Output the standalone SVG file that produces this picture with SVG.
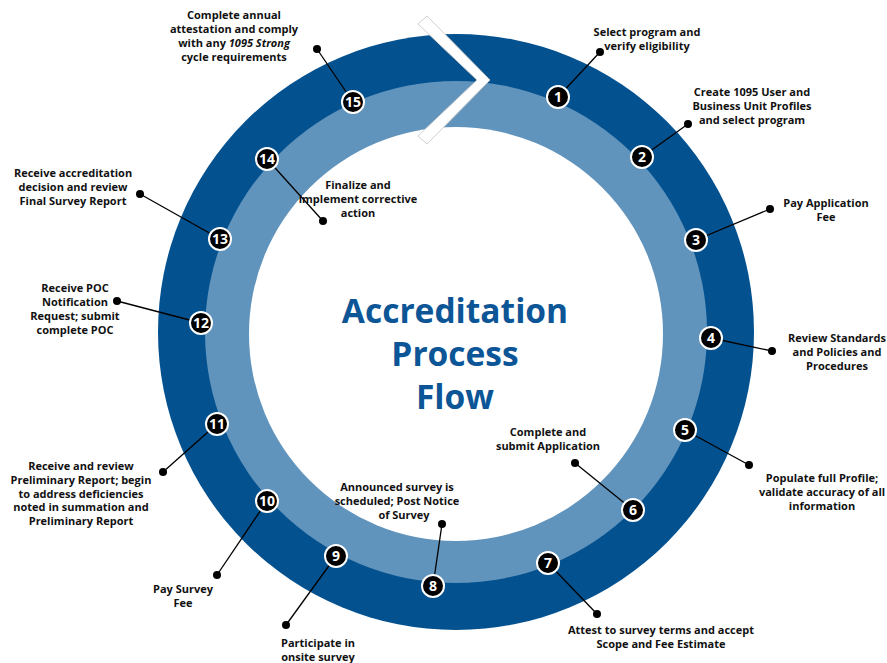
<svg xmlns="http://www.w3.org/2000/svg" width="887" height="663" viewBox="0 0 887 663">
  <style>
    .lbl { font-family: "Open Sans", "Noto Sans", "Liberation Sans", sans-serif; font-weight: 700; font-size: 11px; fill: #111; text-anchor: middle; }
    .num { font-family: "Open Sans", "Noto Sans", "Liberation Sans", sans-serif; font-weight: 700; font-size: 14px; fill: #fff; text-anchor: middle; }
    .title { font-family: "Open Sans", "Noto Sans", "Liberation Sans", sans-serif; font-weight: 700; font-size: 33.5px; fill: #0c5596; text-anchor: middle; }
    .badge { fill: #000; stroke: #fff; stroke-width: 2; }
    .lead { stroke: #000; stroke-width: 1.3; fill: none; }
    .dot { fill: #000; }
  </style>

  <rect width="887" height="663" fill="#fff"/>

  <!-- ring bands -->
  <g id="ring">
    <circle cx="456" cy="332" r="298" fill="#03518f"/>
    <circle cx="456" cy="332" r="251" fill="#6194bc"/>
    <circle cx="456" cy="334" r="207" fill="#fff"/>
    <polygon points="427,16 490,80 427,144 418,136 477,80 418,24" fill="#fff" stroke="#cfcfcf" stroke-width="1"/>
  </g>

  <!-- title -->
  <g id="title">
    <text class="title" x="455" y="323">Accreditation</text>
    <text class="title" x="455" y="366">Process</text>
    <text class="title" x="455" y="409">Flow</text>
  </g>

  <!-- leader lines -->
  <g id="connectors">
    <line class="lead" x1="558" y1="97" x2="600" y2="52"/>
    <line class="lead" x1="642" y1="157" x2="688" y2="124"/>
    <line class="lead" x1="696" y1="240" x2="770" y2="209"/>
    <line class="lead" x1="711" y1="338" x2="772" y2="351"/>
    <line class="lead" x1="685" y1="430" x2="749" y2="465"/>
    <line class="lead" x1="633" y1="510" x2="575" y2="463"/>
    <line class="lead" x1="548" y1="563" x2="597" y2="614"/>
    <line class="lead" x1="433" y1="586" x2="442" y2="524"/>
    <line class="lead" x1="336" y1="556" x2="286" y2="625"/>
    <line class="lead" x1="267" y1="501" x2="217" y2="575"/>
    <line class="lead" x1="217" y1="424" x2="163" y2="472"/>
    <line class="lead" x1="201" y1="323" x2="117" y2="301"/>
    <line class="lead" x1="220" y1="239" x2="140" y2="194"/>
    <line class="lead" x1="267" y1="159" x2="323" y2="221"/>
    <line class="lead" x1="353" y1="102" x2="317" y2="49"/>
    <circle class="dot" cx="600" cy="52" r="4"/>
    <circle class="dot" cx="688" cy="124" r="4"/>
    <circle class="dot" cx="770" cy="209" r="4"/>
    <circle class="dot" cx="772" cy="351" r="4"/>
    <circle class="dot" cx="749" cy="465" r="4"/>
    <circle class="dot" cx="575" cy="463" r="4"/>
    <circle class="dot" cx="597" cy="614" r="4"/>
    <circle class="dot" cx="442" cy="524" r="4"/>
    <circle class="dot" cx="286" cy="625" r="4"/>
    <circle class="dot" cx="217" cy="575" r="4"/>
    <circle class="dot" cx="163" cy="472" r="4"/>
    <circle class="dot" cx="117" cy="301" r="4"/>
    <circle class="dot" cx="140" cy="194" r="4"/>
    <circle class="dot" cx="323" cy="221" r="4"/>
    <circle class="dot" cx="317" cy="49" r="4"/>
  </g>

  <!-- steps -->
  <g id="step1">
    <circle class="badge" cx="558" cy="97" r="11"/>
    <text class="num" x="558" y="102">1</text>
    <text class="lbl" x="647" y="36">Select program and</text>
    <text class="lbl" x="647" y="50">verify eligibility</text>
  </g>
  <g id="step2">
    <circle class="badge" cx="642" cy="157" r="11"/>
    <text class="num" x="642" y="162">2</text>
    <text class="lbl" x="752" y="96">Create 1095 User and</text>
    <text class="lbl" x="752" y="110">Business Unit Profiles</text>
    <text class="lbl" x="752" y="124">and select program</text>
  </g>
  <g id="step3">
    <circle class="badge" cx="696" cy="240" r="11"/>
    <text class="num" x="696" y="245">3</text>
    <text class="lbl" x="826" y="207">Pay Application</text>
    <text class="lbl" x="826" y="221">Fee</text>
  </g>
  <g id="step4">
    <circle class="badge" cx="711" cy="338" r="11"/>
    <text class="num" x="711" y="343">4</text>
    <text class="lbl" x="837" y="342">Review Standards</text>
    <text class="lbl" x="837" y="356">and Policies and</text>
    <text class="lbl" x="837" y="370">Procedures</text>
  </g>
  <g id="step5">
    <circle class="badge" cx="685" cy="430" r="11"/>
    <text class="num" x="685" y="435">5</text>
    <text class="lbl" x="822" y="482">Populate full Profile;</text>
    <text class="lbl" x="822" y="496">validate accuracy of all</text>
    <text class="lbl" x="822" y="510">information</text>
  </g>
  <g id="step6">
    <circle class="badge" cx="633" cy="510" r="11"/>
    <text class="num" x="633" y="515">6</text>
    <text class="lbl" x="548" y="436">Complete and</text>
    <text class="lbl" x="548" y="450">submit Application</text>
  </g>
  <g id="step7">
    <circle class="badge" cx="548" cy="563" r="11"/>
    <text class="num" x="548" y="568">7</text>
    <text class="lbl" x="661" y="634">Attest to survey terms and accept</text>
    <text class="lbl" x="661" y="648">Scope and Fee Estimate</text>
  </g>
  <g id="step8">
    <circle class="badge" cx="433" cy="586" r="11"/>
    <text class="num" x="433" y="591">8</text>
    <text class="lbl" x="397" y="491">Announced survey is</text>
    <text class="lbl" x="397" y="505">scheduled; Post Notice</text>
    <text class="lbl" x="404" y="519">of Survey</text>
  </g>
  <g id="step9">
    <circle class="badge" cx="336" cy="556" r="11"/>
    <text class="num" x="336" y="561">9</text>
    <text class="lbl" x="318" y="647">Participate in</text>
    <text class="lbl" x="318" y="661">onsite survey</text>
  </g>
  <g id="step10">
    <circle class="badge" cx="267" cy="501" r="11"/>
    <text class="num" x="267" y="506">10</text>
    <text class="lbl" x="183" y="593">Pay Survey</text>
    <text class="lbl" x="183" y="607">Fee</text>
  </g>
  <g id="step11">
    <circle class="badge" cx="217" cy="424" r="11"/>
    <text class="num" x="217" y="429">11</text>
    <text class="lbl" x="81" y="470">Receive and review</text>
    <text class="lbl" x="81" y="484">Preliminary Report; begin</text>
    <text class="lbl" x="81" y="497.5">to address deficiencies</text>
    <text class="lbl" x="81" y="511">noted in summation and</text>
    <text class="lbl" x="81" y="525">Preliminary Report</text>
  </g>
  <g id="step12">
    <circle class="badge" cx="201" cy="323" r="11"/>
    <text class="num" x="201" y="328">12</text>
    <text class="lbl" x="75" y="292">Receive POC</text>
    <text class="lbl" x="75" y="306">Notification</text>
    <text class="lbl" x="75" y="320">Request; submit</text>
    <text class="lbl" x="75" y="334">complete POC</text>
  </g>
  <g id="step13">
    <circle class="badge" cx="220" cy="239" r="11"/>
    <text class="num" x="220" y="244">13</text>
    <text class="lbl" x="73" y="177">Receive accreditation</text>
    <text class="lbl" x="73" y="191">decision and review</text>
    <text class="lbl" x="73" y="205">Final Survey Report</text>
  </g>
  <g id="step14">
    <circle class="badge" cx="267" cy="159" r="11"/>
    <text class="num" x="267" y="164">14</text>
    <text class="lbl" x="358" y="189">Finalize and</text>
    <text class="lbl" x="358" y="203">implement corrective</text>
    <text class="lbl" x="358" y="217">action</text>
  </g>
  <g id="step15">
    <circle class="badge" cx="353" cy="102" r="11"/>
    <text class="num" x="353" y="107">15</text>
    <text class="lbl" x="234" y="19">Complete annual</text>
    <text class="lbl" x="234" y="33">attestation and comply</text>
    <text class="lbl" x="234" y="47">with any <tspan font-style="italic">1095 Strong</tspan></text>
    <text class="lbl" x="234" y="61">cycle requirements</text>
  </g>
</svg>
